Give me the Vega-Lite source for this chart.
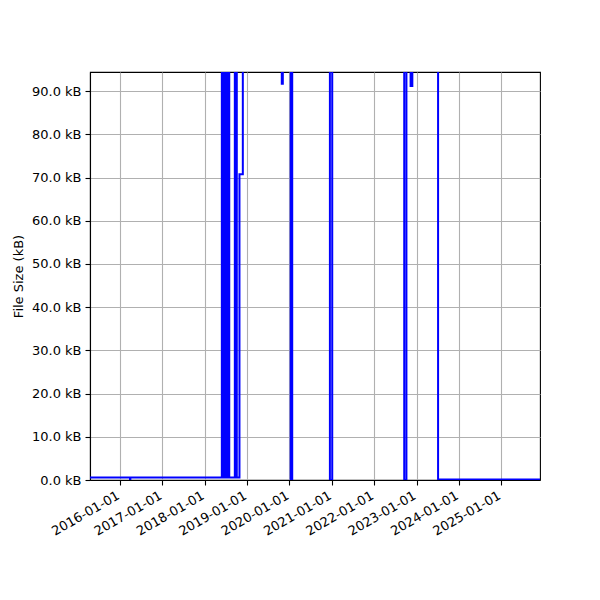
{
  "$schema": "https://vega.github.io/schema/vega-lite/v6.json",
  "autosize": {"type": "none"},
  "width": 450,
  "height": 408,
  "padding": {"left": 90, "top": 72, "right": 60, "bottom": 120},
  "background": "white",
  "config": {
    "font": "DejaVu Sans",
    "view": {"stroke": "black", "strokeWidth": 1.1},
    "axis": {
      "labelFont": "DejaVu Sans",
      "titleFont": "DejaVu Sans",
      "labelFontSize": 13,
      "titleFontSize": 13,
      "labelColor": "black",
      "titleColor": "black",
      "titleFontWeight": "normal",
      "domainColor": "black",
      "domainWidth": 1.1,
      "tickColor": "black",
      "tickWidth": 1.1,
      "tickSize": 5,
      "labelPadding": 4,
      "gridColor": "#b0b0b0",
      "gridWidth": 1.1,
      "gridOpacity": 1
    }
  },
  "data": {
    "values": [
      {"date": "2015-04-17", "kb": 0.6},
      {"date": "2016-03-27", "kb": 0},
      {"date": "2016-03-30", "kb": 0.6},
      {"date": "2018-05-28", "kb": 150},
      {"date": "2018-06-02", "kb": 0.6},
      {"date": "2018-06-06", "kb": 150},
      {"date": "2018-06-11", "kb": 0.6},
      {"date": "2018-06-15", "kb": 150},
      {"date": "2018-06-20", "kb": 0.6},
      {"date": "2018-06-24", "kb": 150},
      {"date": "2018-06-29", "kb": 0.6},
      {"date": "2018-07-03", "kb": 150},
      {"date": "2018-07-08", "kb": 0.6},
      {"date": "2018-07-12", "kb": 150},
      {"date": "2018-07-17", "kb": 0.6},
      {"date": "2018-07-21", "kb": 150},
      {"date": "2018-07-26", "kb": 0.6},
      {"date": "2018-07-28", "kb": 150},
      {"date": "2018-07-31", "kb": 0.6},
      {"date": "2018-09-17", "kb": 150},
      {"date": "2018-10-04", "kb": 0.6},
      {"date": "2018-10-27", "kb": 70.8},
      {"date": "2018-11-25", "kb": 150},
      {"date": "2019-10-27", "kb": 91.7},
      {"date": "2019-11-05", "kb": 150},
      {"date": "2020-01-12", "kb": 0},
      {"date": "2020-01-25", "kb": 150},
      {"date": "2020-12-15", "kb": 0},
      {"date": "2021-01-04", "kb": 150},
      {"date": "2022-09-17", "kb": 0},
      {"date": "2022-10-06", "kb": 150},
      {"date": "2022-11-11", "kb": 91.2},
      {"date": "2022-11-26", "kb": 150},
      {"date": "2023-07-06", "kb": 0.1},
      {"date": "2025-12-01", "kb": 0.1}
    ]
  },
  "mark": {"type": "line", "interpolate": "step-after", "color": "#0000ff", "strokeWidth": 2, "clip": true},
  "encoding": {
    "x": {
      "field": "date",
      "type": "temporal",
      "scale": {
        "type": "utc",
        "domain": [
          {"year": 2015, "month": 4, "date": 17, "utc": true},
          {"year": 2025, "month": 12, "date": 1, "utc": true}
        ],
        "nice": false
      },
      "axis": {
        "title": null,
        "grid": true,
        "tickCount": {"interval": "year", "step": 1},
        "labelExpr": "utcFormat(datum.value, '%Y-%m-%d')",
        "labelAngle": -30,
        "labelAlign": "right",
        "labelBaseline": "top",
        "labelOffset": -5,
        "labelOverlap": false
      }
    },
    "y": {
      "field": "kb",
      "type": "quantitative",
      "scale": {"domain": [0, 94.44], "nice": false, "zero": true},
      "axis": {
        "title": "File Size (kB)",
        "values": [0, 10, 20, 30, 40, 50, 60, 70, 80, 90],
        "labelExpr": "format(datum.value, '.1f') + ' kB'",
        "grid": true,
        "titlePadding": 6
      }
    }
  }
}
